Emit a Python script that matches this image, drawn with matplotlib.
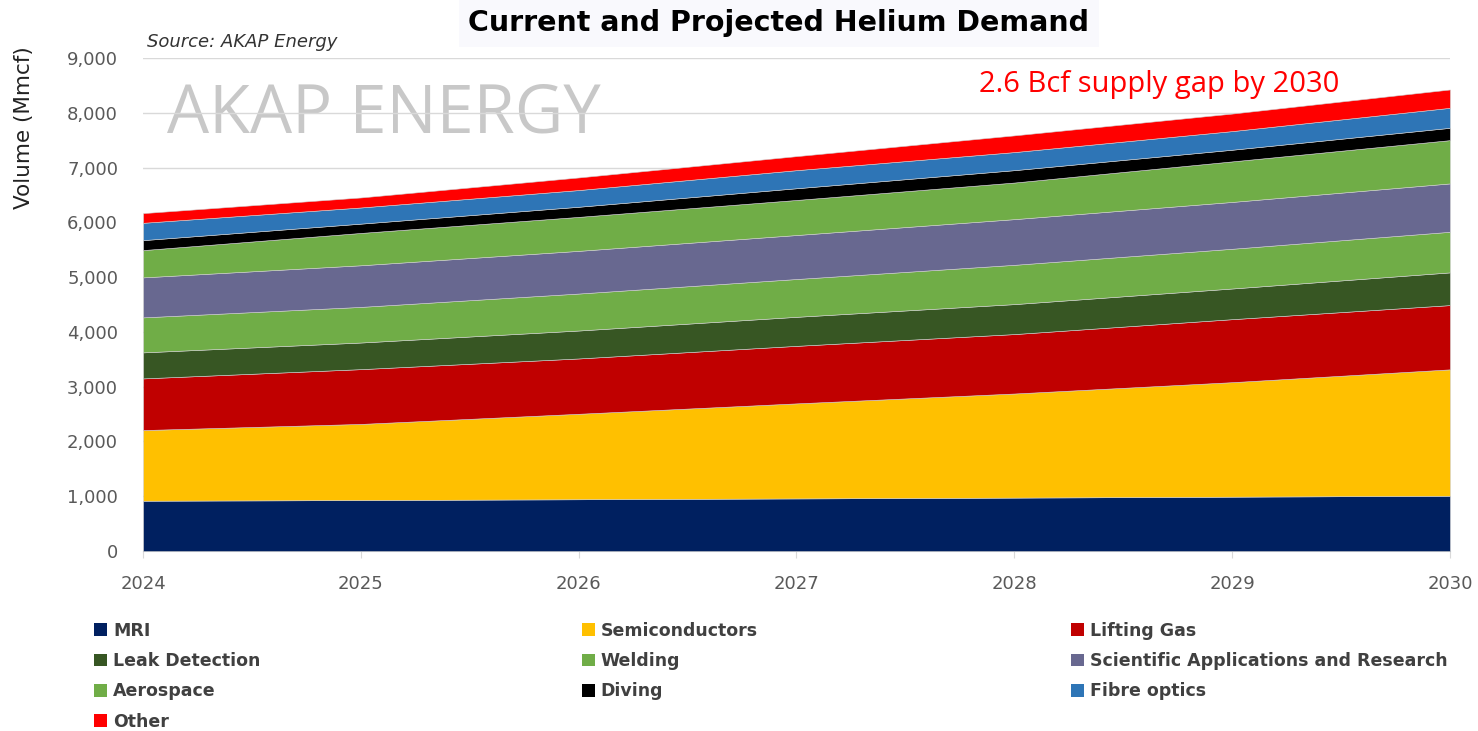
import numpy as np
import matplotlib.pyplot as plt
from matplotlib.patches import Patch

# helium demand by end use, Mmcf
years = [2024, 2025, 2026, 2027, 2028, 2029, 2030]
mri = [918, 930, 945, 960, 975, 992, 1009]
semiconductors = [1290, 1390, 1560, 1735, 1900, 2090, 2307]
lifting_gas = [943, 1000, 1010, 1050, 1085, 1150, 1173]
leak_detection = [475, 486, 510, 530, 547, 560, 597]
welding = [639, 650, 675, 690, 717, 725, 741]
scientific = [730, 760, 779, 803, 834, 855, 883]
aerospace = [498, 590, 620, 640, 668, 740, 790]
diving = [182, 170, 185, 214, 226, 213, 225]
fibre_optics = [316, 295, 305, 330, 330, 340, 365]
other = [177, 183, 230, 256, 305, 320, 335]

labels = ["MRI", "Semiconductors", "Lifting Gas", "Leak Detection", "Welding",
          "Scientific Applications and Research", "Aerospace", "Diving",
          "Fibre optics", "Other"]
colors = ["#002060", "#FFC000", "#C00000", "#375623", "#70AD47",
          "#686890", "#70AD47", "#000000", "#2E75B6", "#FF0000"]
y_ticks = [0, 1000, 2000, 3000, 4000, 5000, 6000, 7000, 8000, 9000]

series = [mri, semiconductors, lifting_gas, leak_detection, welding,
          scientific, aerospace, diving, fibre_optics, other]

fig = plt.figure(figsize=(14.78, 7.31), dpi=100)
fig.patch.set_facecolor("white")
ax = fig.add_axes([0.0968, 0.2462, 0.981 - 0.0968, 0.9207 - 0.2462])

ax.stackplot(years, *series, colors=colors, edgecolor="#d0d0d0", linewidth=0.4, zorder=3)

ax.set_xlim(2024, 2030)
ax.set_ylim(0, 9000)
ax.set_yticks(y_ticks)
ax.set_yticklabels([f"{v:,}" for v in y_ticks])
ax.set_xticks(years)
ax.grid(axis="y", color="#d9d9d9", linewidth=1, zorder=0)
for s in ["top", "right", "left"]:
    ax.spines[s].set_visible(False)
ax.spines["bottom"].set_color("#d9d9d9")
ax.tick_params(axis="y", length=0, pad=18, labelsize=13, labelcolor="#595959")
ax.tick_params(axis="x", length=5, color="#d9d9d9", pad=12, labelsize=13, labelcolor="#595959")

# watermark
ax.text(0.018, 0.885, "AKAP ENERGY", transform=ax.transAxes, fontsize=48,
        color="#c8c8c8", family="Open Sans", va="center",
        ha="left", zorder=1)

ax.text(0.64, 0.947, "2.6 Bcf supply gap by 2030", transform=ax.transAxes,
        fontsize=21, color="#FF0000", family="Open Sans", va="center", ha="left",
        bbox=dict(facecolor="white", edgecolor="none", pad=1), zorder=5)

fig.text(0.527, 0.968, "Current and Projected Helium Demand", ha="center",
         va="center", fontsize=20.5, fontweight="bold", family="DejaVu Sans",
         bbox=dict(facecolor="#f9f9fd", edgecolor="none", pad=7))
fig.text(0.0995, 0.942, "Source: AKAP Energy", ha="left", va="center",
         fontsize=13, style="italic", color="#333333")
fig.text(0.016, 0.826, "Volume (Mmcf)", rotation=90, ha="center", va="center",
         fontsize=15.5, color="#222222")

# legend in three columns, row-major like the original
cols = [[0, 3, 6, 9], [1, 4, 7], [2, 5, 8]]
xs = [0.053, 0.383, 0.714]
for x0, idx in zip(xs, cols):
    handles = [Patch(facecolor=colors[i], label=labels[i]) for i in idx]
    fig.legend(handles=handles, loc="upper left", bbox_to_anchor=(x0, 0.171),
               frameon=False, handlelength=0.75, handleheight=0.75,
               handletextpad=0.35, labelspacing=0.71,
               prop=dict(family="DejaVu Sans", weight="bold", size=12.5),
               labelcolor="#404040")

fig.savefig("out.png", dpi=100)
